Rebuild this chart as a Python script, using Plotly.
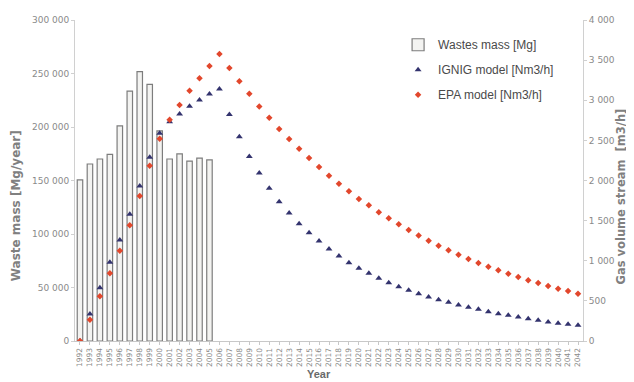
import plotly.graph_objects as go

years = [str(y) for y in range(1992, 2043)]

bar_years = [str(y) for y in range(1992, 2006)]
waste_mass = [150500, 165400, 170100, 174500, 201000, 233600, 251700, 239900,
              196300, 170100, 174800, 168200, 171000, 169200]

ignig = [0, 336, 664, 981, 1258, 1579, 1931, 2289, 2588, 2732, 2828, 2924, 3003,
         3078, 3140, 2822, 2546, 2300, 2093, 1903, 1736, 1595, 1462, 1349, 1246,
         1146, 1059, 976, 906, 844, 781, 727, 677, 632, 588, 548, 515, 482, 449,
         420, 395, 365, 340, 320, 299, 278, 258, 237, 221, 208, 196]

epa = [0, 265, 557, 844, 1125, 1442, 1807, 2184, 2521, 2757, 2941, 3119, 3273,
       3427, 3576, 3402, 3236, 3081, 2923, 2782, 2642, 2517, 2396, 2280, 2168,
       2060, 1960, 1865, 1769, 1691, 1604, 1529, 1454, 1383, 1316, 1250, 1187,
       1130, 1075, 1022, 972, 926, 881, 839, 797, 756, 723, 685, 652, 623, 589]

FONT = "Liberation Sans, Arial, sans-serif"
WIDE = "DejaVu Sans, Liberation Sans, sans-serif"
GRAY = "#8a8a8a"

fig = go.Figure()
fig.add_trace(go.Bar(
    x=bar_years, y=waste_mass, name="Wastes mass [Mg]", legendgroup="a",
    marker=dict(color="#f3f3f1", line=dict(color="#7d7d7d", width=1.2)),
    yaxis="y",
))
fig.add_trace(go.Scatter(
    x=years, y=ignig, name="IGNIG model [Nm3/h]", mode="markers", legendgroup="b",
    marker=dict(symbol="triangle-up", size=6, color="#33336e"),
    yaxis="y2",
))
fig.add_trace(go.Scatter(
    x=years, y=epa, name="EPA model [Nm3/h]", mode="markers", legendgroup="c",
    marker=dict(symbol="diamond", size=5, color="#e2472c"),
    yaxis="y2",
))

# page body has an 8px margin, so the figure is sized/placed to compensate
fig.update_layout(
    width=626, height=374,
    margin=dict(l=67, r=51, t=12, b=41),
    paper_bgcolor="white", plot_bgcolor="white",
    separators=". ",
    bargap=0.45,
    font=dict(family=FONT, size=9, color=GRAY),
    showlegend=True,
    legend=dict(x=0.636, y=0.968, xanchor="left", yanchor="top",
                font=dict(size=12, color="#4a4a4a", family=FONT),
                bgcolor="rgba(0,0,0,0)", tracegroupgap=6, itemwidth=30),
    xaxis=dict(
        type="category", categoryorder="array", categoryarray=years,
        range=[-0.5, 50.5], tickangle=-90,
        tickfont=dict(size=7.5, color=GRAY, family=WIDE),
        showline=True, linecolor="#c8c8c8", linewidth=1, ticks="outside",
        ticklen=3, tickcolor="#c8c8c8", showgrid=False, automargin=False,
    ),
    yaxis=dict(
        range=[0, 300000], dtick=50000, tickformat=",d",
        showgrid=False, zeroline=False, showline=True, linecolor="#d0d0d0",
        ticks="outside", ticklen=3, tickcolor="#d0d0d0",
        tickfont=dict(size=9, color=GRAY, family=WIDE), automargin=False,
    ),
    yaxis2=dict(
        range=[0, 4000], dtick=500, tickformat=",d", overlaying="y", side="right",
        showgrid=False, zeroline=False, showline=True, linecolor="#d0d0d0",
        ticks="outside", ticklen=3, tickcolor="#d0d0d0",
        tickfont=dict(size=9, color=GRAY, family=WIDE), automargin=False,
    ),
    annotations=[
        dict(text="<b>Waste mass [Mg/year]</b>", x=-0.116, y=0.42, xref="paper", yref="paper",
             xanchor="center", yanchor="middle",
             showarrow=False, textangle=-90, font=dict(size=12, color="#808080", family=WIDE)),
        dict(text="<b>Gas volume stream  [m3/h]</b>", x=1.074, y=0.449, xref="paper", yref="paper",
             xanchor="center", yanchor="middle",
             showarrow=False, textangle=-90, font=dict(size=11.5, color="#808080", family=WIDE)),
        dict(text="<b>Year</b>", x=0.48, y=-0.103, xref="paper", yref="paper",
             xanchor="center", yanchor="middle",
             showarrow=False, font=dict(size=11, color="#6a6a6a")),
    ],
)

fig.write_html("out.html")
